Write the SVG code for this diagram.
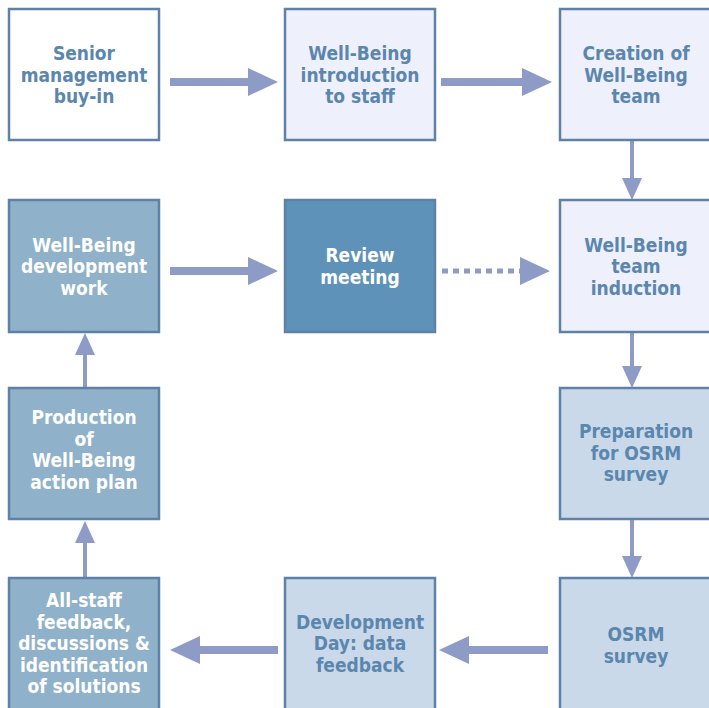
<svg xmlns="http://www.w3.org/2000/svg" width="709" height="708" viewBox="0 0 709 708">
<style>
.box{stroke:#5f80a7;stroke-width:2.5}
.white{fill:#ffffff}
.lav{fill:#eef0fb}
.lb{fill:#c9d9ea}
.med{fill:#8fb1c9}
.dark{fill:#5e92b8}
text{font-family:"DejaVu Sans Condensed","DejaVu Sans",sans-serif;font-stretch:condensed;font-weight:bold;font-size:19px;text-anchor:middle}
.tb{fill:#5b86ad}
.tw{fill:#ffffff}
.h{stroke:#8d9bc6;stroke-width:8;fill:none}
.v{stroke:#8d9bc6;stroke-width:4;fill:none}
.d{stroke:#8d9bc6;stroke-width:5;stroke-dasharray:6 5;fill:none}
</style>
<defs>
<marker id="big" viewBox="0 0 30 28" refX="0" refY="14" markerWidth="30" markerHeight="28" markerUnits="userSpaceOnUse" orient="auto">
<path d="M0,0 L30,14 L0,28 Z" fill="#8d9bc6"/>
</marker>
<marker id="small" viewBox="0 0 22 20" refX="0" refY="10" markerWidth="22" markerHeight="20" markerUnits="userSpaceOnUse" orient="auto">
<path d="M0,0 L22,10 L0,20 Z" fill="#8d9bc6"/>
</marker>
</defs>
<rect width="709" height="708" fill="#ffffff"/>

<g id="connectors">
<line class="h" x1="170" y1="82" x2="248" y2="82" marker-end="url(#big)"/>
<line class="h" x1="441" y1="82" x2="522" y2="82" marker-end="url(#big)"/>
<line class="v" x1="632" y1="141" x2="632" y2="178" marker-end="url(#small)"/>
<line class="h" x1="170" y1="271" x2="248" y2="271" marker-end="url(#big)"/>
<line class="d" x1="442" y1="271" x2="520" y2="271" marker-end="url(#big)"/>
<line class="v" x1="632" y1="333" x2="632" y2="366" marker-end="url(#small)"/>
<line class="v" x1="632" y1="520" x2="632" y2="556" marker-end="url(#small)"/>
<line class="h" x1="548" y1="650" x2="469" y2="650" marker-end="url(#big)"/>
<line class="h" x1="278" y1="650" x2="200" y2="650" marker-end="url(#big)"/>
<line class="v" x1="85" y1="577" x2="85" y2="543" marker-end="url(#small)"/>
<line class="v" x1="85" y1="387" x2="85" y2="355" marker-end="url(#small)"/>
</g>

<g id="senior">
<rect class="box white" x="9" y="9" width="150" height="131"/>
<text class="tb" x="84" y="60">Senior</text>
<text class="tb" x="84" y="81.5">management</text>
<text class="tb" x="84" y="103">buy-in</text>
</g>
<g id="intro">
<rect class="box lav" x="285" y="9" width="150" height="131"/>
<text class="tb" x="360" y="60">Well-Being</text>
<text class="tb" x="360" y="81.5">introduction</text>
<text class="tb" x="360" y="103">to staff</text>
</g>
<g id="creation">
<rect class="box lav" x="560" y="9" width="152" height="131"/>
<text class="tb" x="636" y="60">Creation of</text>
<text class="tb" x="636" y="81.5">Well-Being</text>
<text class="tb" x="636" y="103">team</text>
</g>
<g id="devwork">
<rect class="box med" x="9" y="200" width="150" height="132"/>
<text class="tw" x="84" y="251.5">Well-Being</text>
<text class="tw" x="84" y="273">development</text>
<text class="tw" x="84" y="294.5">work</text>
</g>
<g id="review">
<rect class="box dark" x="285" y="200" width="150" height="132"/>
<text class="tw" x="360" y="262">Review</text>
<text class="tw" x="360" y="283.5">meeting</text>
</g>
<g id="induction">
<rect class="box lav" x="560" y="200" width="152" height="132"/>
<text class="tb" x="636" y="251.5">Well-Being</text>
<text class="tb" x="636" y="273">team</text>
<text class="tb" x="636" y="294.5">induction</text>
</g>
<g id="production">
<rect class="box med" x="9" y="388" width="150" height="131"/>
<text class="tw" x="84" y="424">Production</text>
<text class="tw" x="84" y="445.5">of</text>
<text class="tw" x="84" y="467">Well-Being</text>
<text class="tw" x="84" y="488.5">action plan</text>
</g>
<g id="preparation">
<rect class="box lb" x="560" y="388" width="152" height="131"/>
<text class="tb" x="636" y="438">Preparation</text>
<text class="tb" x="636" y="459.5">for OSRM</text>
<text class="tb" x="636" y="481">survey</text>
</g>
<g id="allstaff">
<rect class="box med" x="9" y="578" width="150" height="135"/>
<text class="tw" x="84" y="607">All-staff</text>
<text class="tw" x="84" y="628.5">feedback,</text>
<text class="tw" x="84" y="650">discussions &amp;</text>
<text class="tw" x="84" y="671.5">identification</text>
<text class="tw" x="84" y="693">of solutions</text>
</g>
<g id="devday">
<rect class="box lb" x="285" y="578" width="150" height="135"/>
<text class="tb" x="360" y="628.5">Development</text>
<text class="tb" x="360" y="650">Day: data</text>
<text class="tb" x="360" y="671.5">feedback</text>
</g>
<g id="osrm">
<rect class="box lb" x="560" y="578" width="152" height="135"/>
<text class="tb" x="636" y="641">OSRM</text>
<text class="tb" x="636" y="662.5">survey</text>
</g>
</svg>
